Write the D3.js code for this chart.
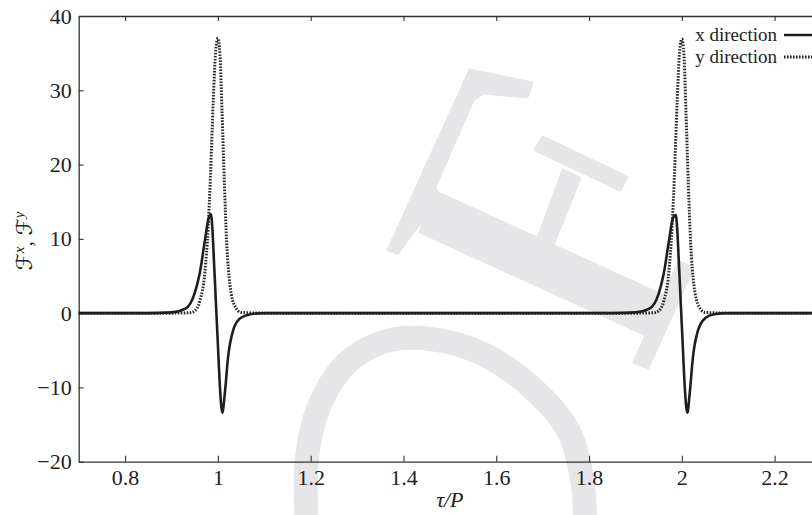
<!DOCTYPE html>
<html>
<head>
<meta charset="utf-8">
<script src="https://cdn.jsdelivr.net/npm/d3@7"></script>
<style>
  body { margin: 0; background: #fff; }
  svg { display: block; }
  svg text { font-family: "Liberation Serif", "Times New Roman", serif; }
</style>
</head>
<body>
<div id="chart"></div>
<script>
// x direction force (solid)
var tauX = [0.70, 0.85, 0.90, 0.93, 0.95, 0.961, 0.972, 0.980, 0.985, 0.988, 0.992, 0.996, 1.000, 1.004, 1.0095, 1.015, 1.022, 1.033, 1.048, 1.07, 1.10,
            1.85, 1.90, 1.93, 1.95, 1.961, 1.972, 1.981, 1.987, 1.990, 1.994, 1.998, 2.002, 2.006, 2.012, 2.017, 2.024, 2.035, 2.050, 2.07, 2.10, 2.30];
var forceX = [0, 0, 0.1, 0.6, 2.7, 5.4, 9.8, 12.8, 13.3, 11.5, 6.4, 1.1, -4.2, -9.5, -13.4, -10.8, -5.9, -2.3, -0.7, -0.15, 0,
              0, 0.1, 0.6, 2.6, 5.3, 9.6, 12.8, 13.2, 11.4, 6.3, 1.0, -4.3, -9.6, -13.4, -10.8, -5.9, -2.3, -0.7, -0.15, 0, 0];

// y direction force (dotted)
var tauY = [0.70, 0.90, 0.94, 0.95, 0.961, 0.972, 0.979, 0.984, 0.990, 0.9955, 1.000, 1.0045, 1.009, 1.014, 1.019, 1.026, 1.037, 1.05, 1.10,
            1.90, 1.94, 1.95, 1.961, 1.972, 1.979, 1.984, 1.990, 1.9955, 2.000, 2.0045, 2.009, 2.014, 2.019, 2.026, 2.037, 2.05, 2.10, 2.30];
var forceY = [0, 0, 0.05, 0.3, 1.6, 5.5, 11.5, 18.5, 28.5, 35.5, 37.0, 34.8, 27.0, 17.5, 9.5, 3.8, 0.9, 0.1, 0,
              0, 0.05, 0.3, 1.6, 5.5, 11.5, 18.5, 28.5, 35.4, 36.9, 34.8, 27.0, 17.5, 9.5, 3.8, 0.9, 0.1, 0, 0];

var xTicks = [0.8, 1, 1.2, 1.4, 1.6, 1.8, 2, 2.2];
var yTicks = [-20, -10, 0, 10, 20, 30, 40];
var legendLabels = ["x direction", "y direction"];

// publisher watermark (light grey, behind the plot)
var watermarkShapes = [
  [[470,70],[488,76],[473,100],[435,187],[440,200],[413,232],[398,253],[388,250]],
  [[470,70],[532,83],[527,97],[483,93],[473,100]],
  [[436,192],[662,295],[648,336],[420,232]],
  [[679,262],[693,268],[648,368],[634,362]],
  [[563,170],[580,178],[551,250],[536,244]],
  [[535,150],[543,137],[627,177],[620,190]]
];
var watermarkRing = [[305,560],[306,515],[307,457],[320,404],[348,362],[390,340],[431,339],[481,353],[531,387],[568,430],[582,478],[585,515],[584,560]];

var width = 812, height = 515;
var margin = { top: 16, left: 78.7, bottom: 53.3 };
var plotRight = 821;

var svg = d3.select("#chart").append("svg")
    .attr("width", width)
    .attr("height", height);

svg.append("rect").attr("width", width).attr("height", height).attr("fill", "#fff");

// watermark
var wmColor = "#e6e6e8";
var wm = svg.append("g").attr("fill", wmColor).attr("stroke", wmColor)
    .attr("stroke-width", 3).attr("stroke-linejoin", "round");
watermarkShapes.forEach(function(pts) {
  wm.append("path").attr("d", d3.line()(pts) + "Z");
});
svg.append("path")
    .attr("d", d3.line().curve(d3.curveCatmullRom)(watermarkRing))
    .attr("fill", "none").attr("stroke", wmColor).attr("stroke-width", 24);

var x = d3.scaleLinear().domain([0.7, 2.3]).range([margin.left, plotRight]);
var y = d3.scaleLinear().domain([-20, 40]).range([height - margin.bottom, margin.top]);

// axes
var xAxis = svg.append("g")
    .attr("transform", "translate(0," + y(-20) + ")")
    .call(d3.axisBottom(x).tickValues(xTicks).tickFormat(d3.format("")).tickSizeInner(-6).tickSizeOuter(0).tickPadding(8));
var topAxis = svg.append("g")
    .attr("transform", "translate(0," + y(40) + ")")
    .call(d3.axisTop(x).tickValues(xTicks).tickFormat("").tickSizeInner(-5).tickSizeOuter(0));
var yAxis = svg.append("g")
    .attr("transform", "translate(" + x(0.7) + ",0)")
    .call(d3.axisLeft(y).tickValues(yTicks).tickFormat(function(d) { return d < 0 ? "\u2212" + Math.abs(d) : d; })
      .tickSizeInner(-5).tickSizeOuter(0).tickPadding(7));

[xAxis, topAxis, yAxis].forEach(function(g) {
  g.attr("font-family", null);
  g.select(".domain").attr("stroke", "#333").attr("stroke-width", 1.3);
  g.selectAll(".tick line").attr("stroke", "#333").attr("stroke-width", 1.1);
  g.selectAll(".tick text").attr("fill", "#222").style("font-size", "22px");
});

// curves
var lineGen = d3.line().curve(d3.curveMonotoneX);

svg.append("path")
    .attr("d", lineGen(tauY.map(function(t, i) { return [x(t), y(forceY[i])]; })))
    .attr("fill", "none").attr("stroke", "#2a2a2a").attr("stroke-width", 3)
    .attr("stroke-dasharray", "1.6,1.4");

svg.append("path")
    .attr("d", lineGen(tauX.map(function(t, i) { return [x(t), y(forceX[i])]; })))
    .attr("fill", "none").attr("stroke", "#1e1e1e").attr("stroke-width", 2.6);

// legend
var legend = svg.append("g");
legendLabels.forEach(function(lbl, i) {
  var ly = 35 + i * 22;
  legend.append("text").attr("x", 777).attr("y", ly).attr("dy", "0.32em")
      .attr("text-anchor", "end").style("font-size", "19px").attr("fill", "#222").text(lbl);
  var l = legend.append("line").attr("x1", 784).attr("x2", 840).attr("y1", ly).attr("y2", ly)
      .attr("stroke", "#1e1e1e");
  if (i === 0) l.attr("stroke-width", 2.6);
  else l.attr("stroke-width", 3).attr("stroke-dasharray", "1.6,1.4");
});

// axis titles
svg.append("text")
    .attr("x", (margin.left + plotRight) / 2).attr("y", 507)
    .attr("text-anchor", "middle").style("font-size", "22px").style("font-style", "italic")
    .attr("fill", "#222").text("\u03c4/P");

var yl = svg.append("text")
    .attr("transform", "translate(32,241) rotate(-90)")
    .attr("text-anchor", "middle").style("font-size", "22px").attr("fill", "#222");
yl.append("tspan").style("font-family", "DejaVu Sans").text("\u2131");
yl.append("tspan").attr("dy", -8).style("font-size", "15px").style("font-style", "italic").text("x");
yl.append("tspan").attr("dy", 8).text(", ");
yl.append("tspan").style("font-family", "DejaVu Sans").text("\u2131");
yl.append("tspan").attr("dy", -8).style("font-size", "15px").style("font-style", "italic").text("y");
</script>
</body>
</html>
